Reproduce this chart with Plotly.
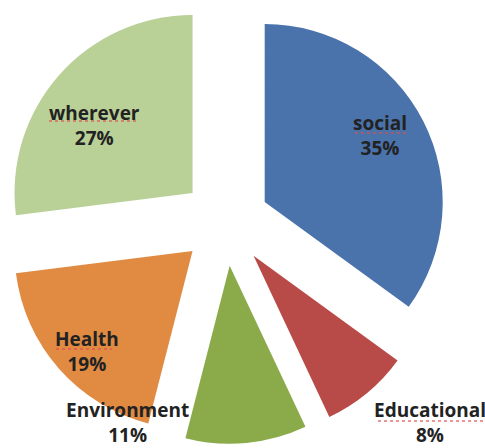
import plotly.graph_objects as go

# Share of responses by category
categories = ["social", "Educational", "Environment", "Health", "wherever"]
shares = [35, 8, 11, 19, 27]
slice_colors = ["#4a72ab", "#b84a47", "#8bab4b", "#e08a42", "#b9d096"]

W, H = 485, 448

fig = go.Figure(
    go.Pie(
        labels=categories,
        values=shares,
        sort=False,
        direction="clockwise",
        rotation=0,
        pull=0.247,
        marker=dict(colors=slice_colors, line=dict(width=0)),
        textinfo="none",
        hoverinfo="label+percent",
        domain=dict(x=[0, 0.93], y=[0.009, 1]),
        showlegend=False,
    )
)

# Label placement (pixel centres) for each category, in drawing order
label_px = {
    "social": (380, 135),
    "Educational": (430, 422),
    "Environment": (127, 422),
    "Health": (87, 351),
    "wherever": (94, 125),
}
# spell-check style underline under some labels: (x0, x1, y)
underline_px = {
    "social": (355, 407, 133),
    "Educational": (378, 483, 421),
    "Health": (56, 112, 349),
    "wherever": (49, 139, 121),
}

total = sum(shares)
annotations = []
shapes = []
for name, val in zip(categories, shares):
    px, py = label_px[name]
    annotations.append(
        dict(
            x=px / W,
            y=1 - py / H,
            xref="paper",
            yref="paper",
            xanchor="center",
            yanchor="middle",
            text=f"{name}<br>{round(100 * val / total)}%",
            showarrow=False,
            align="center",
            font=dict(family="Open Sans", size=19, color="#222222", weight="bold"),
        )
    )
    if name in underline_px:
        x0, x1, uy = underline_px[name]
        shapes.append(
            dict(
                type="line",
                xref="paper",
                yref="paper",
                x0=x0 / W,
                x1=x1 / W,
                y0=1 - uy / H,
                y1=1 - uy / H,
                layer="above",
                opacity=0.8,
                line=dict(color="#e05050", width=1.6, dash="dot"),
            )
        )

fig.update_layout(
    width=W,
    height=H,
    margin=dict(l=0, r=0, t=0, b=0),
    paper_bgcolor="white",
    plot_bgcolor="white",
    annotations=annotations,
    shapes=shapes,
)

fig.write_html("out.html")
